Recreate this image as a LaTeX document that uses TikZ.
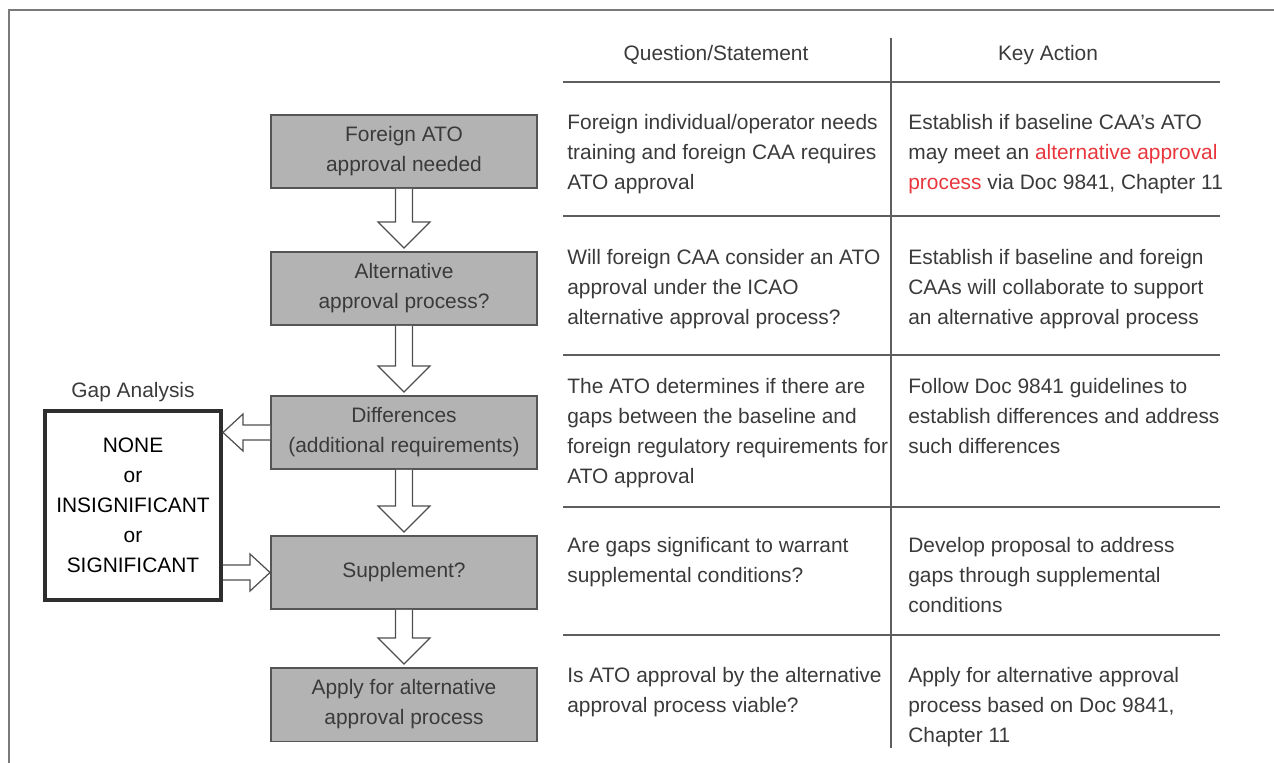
\documentclass[tikz,border=0pt]{standalone}
\usepackage{fontspec}
\setmainfont{Liberation Sans}
\usetikzlibrary{calc}
\definecolor{frame}{HTML}{7A7A7A}
\definecolor{ink}{HTML}{3A3A3A}
\definecolor{rulegray}{HTML}{5E5E5E}
\definecolor{boxgray}{HTML}{B3B3B3}
\definecolor{boxedge}{HTML}{555555}
\definecolor{arrowedge}{HTML}{4F4F4F}
\definecolor{alertred}{HTML}{E8363C}
\tikzset{
  txt/.style={font=\fontsize{11.9pt}{17pt}\selectfont,text=ink,inner sep=0pt},
  stagebox/.style={txt,draw=boxedge,fill=boxgray,line width=0.85pt,
                   minimum width=5.33cm,minimum height=1.47cm,align=center},
  gapbox/.style={txt,text=black,draw=black!82,fill=white,line width=2.3pt,
                 minimum width=3.52cm,minimum height=3.78cm,align=center},
  celltext/.style={txt,anchor=north west,align=left},
  colhead/.style={txt,anchor=base},
  tablerule/.style={draw=rulegray,line width=0.8pt},
  hollow/.style={draw=arrowedge,fill=white,line width=0.7pt,line join=miter}
}
% down block arrow between two stacked boxes
\newcommand{\vblock}[2]{%
  \draw[hollow] ($(#1)+(-8.5,0)$) -- ($(#2)+(-8.5,-29)$) -- ($(#2)+(-26,-29)$)
    -- ($(#2)+(0,-3)$) -- ($(#2)+(26,-29)$) -- ($(#2)+(8.5,-29)$)
    -- ($(#1)+(8.5,0)$);}
% sideways block arrow, #3 = head length (its sign sets the direction)
\newcommand{\hblock}[3]{%
  \draw[hollow] ($(#1)+(0,-7.5)$) -- ($(#2)+(#3,-7.5)$) -- ($(#2)+(#3,-18.5)$)
    -- (#2) -- ($(#2)+(#3,18.5)$) -- ($(#2)+(#3,7.5)$) -- ($(#1)+(0,7.5)$);}

\begin{document}
\begin{tikzpicture}[x=0.02cm,y=-0.02cm]
  \path[use as bounding box] (0,0) rectangle (1274,763);
  \draw[draw=frame,line width=1.1pt] (9,763) -- (9,10) -- (1274,10);

  % flow column
  \foreach \n/\yy/\txt in {1/151.5/{Foreign ATO\\approval needed},
                           2/288.5/{Alternative\\approval process?},
                           3/432.5/{Differences\\(additional requirements)},
                           4/572.5/{Supplement?},
                           5/704.5/{Apply for alternative\\approval process}}{
    \node[stagebox] (stage\n) at (404,\yy) {\txt};
  }
  \foreach \a/\b in {1/2,2/3,3/4,4/5}{\vblock{stage\a.south}{stage\b.north}}

  % gap analysis
  \node[txt,anchor=base] (gaplbl) at (133,398) {Gap Analysis};
  \node[gapbox] (gap) at (133,505.5)
    {NONE\\or\\INSIGNIFICANT\\or\\SIGNIFICANT};
  \hblock{stage3.west}{gap.east |- stage3.west}{20}
  \hblock{gap.east |- stage4.west}{stage4.west}{-20}

  % table
  \node[colhead] (hq) at (716,60.5) {Question/Statement};
  \node[colhead] (hka) at (1048,60.5) {Key Action};
  \draw[tablerule] (891,38) -- (891,748);
  \foreach \yy in {82,216,355,507,635}{\draw[tablerule] (563,\yy) -- (1220,\yy);}

  \node[celltext] (qs1) at (567,114)
    {Foreign individual/operator needs\\training and foreign CAA requires\\ATO approval};
  \node[celltext] (ka1) at (908,114)
    {Establish if baseline CAA’s ATO\\may meet an \textcolor{alertred}{alternative approval}\\%
     \textcolor{alertred}{process} via Doc 9841, Chapter 11};
  \node[celltext] (qs2) at (567,249)
    {Will foreign CAA consider an ATO\\approval under the ICAO\\alternative approval process?};
  \node[celltext] (ka2) at (908,249)
    {Establish if baseline and foreign\\CAAs will collaborate to support\\an alternative approval process};
  \node[celltext] (qs3) at (567,378)
    {The ATO determines if there are\\gaps between the baseline and\\foreign regulatory requirements for\\ATO approval};
  \node[celltext] (ka3) at (908,378)
    {Follow Doc 9841 guidelines to\\establish differences and address\\such differences};
  \node[celltext] (qs4) at (567,537)
    {Are gaps significant to warrant\\supplemental conditions?};
  \node[celltext] (ka4) at (908,537)
    {Develop proposal to address\\gaps through supplemental\\conditions};
  \node[celltext] (qs5) at (567,667)
    {Is ATO approval by the alternative\\approval process viable?};
  \node[celltext] (ka5) at (908,667)
    {Apply for alternative approval\\process based on Doc 9841,\\Chapter 11};
\end{tikzpicture}
\end{document}
